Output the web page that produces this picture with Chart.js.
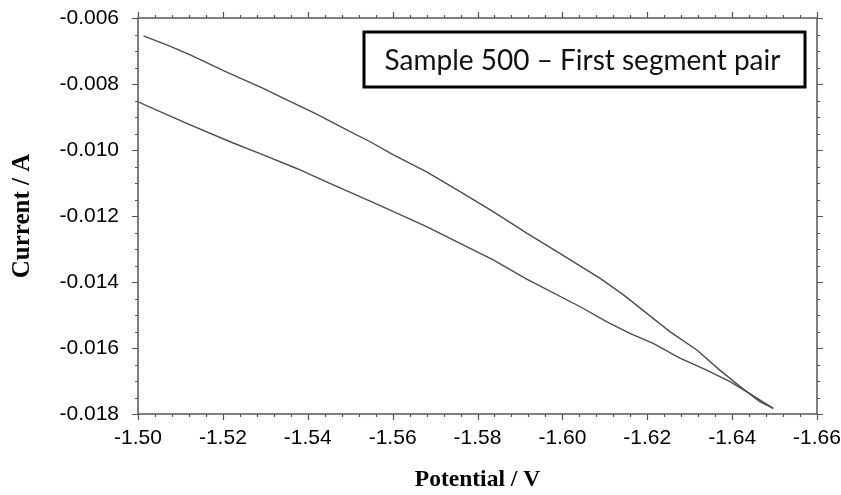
<!DOCTYPE html>
<html>
<head>
<meta charset="utf-8">
<script src="https://cdn.jsdelivr.net/npm/chart.js@4.4.1/dist/chart.umd.min.js"></script>
<style>
html, body { margin: 0; padding: 0; background: #fff; }
#wrap { width: 841px; height: 495px; }
</style>
</head>
<body>
<div id="wrap"><canvas id="cv-chart"></canvas></div>
<script>
// forward scan (lower trace), -1.50 V -> -1.65 V
const potentialFwd = [-1.5000, -1.5052, -1.5123, -1.5217, -1.5295, -1.5374, -1.5452, -1.5547, -1.5602, -1.5680, -1.5759,
    -1.5837, -1.5916, -1.6042, -1.6104, -1.6159, -1.6214, -1.6277, -1.6340, -1.6395, -1.6434, -1.6497]
const currentFwd = [-0.00854, -0.00884, -0.00924, -0.00975, -0.01015, -0.01056, -0.01101, -0.01155, -0.01187, -0.01232, -0.01283,
    -0.01333, -0.01391, -0.01475, -0.01520, -0.01556, -0.01586, -0.01631, -0.01667, -0.01702, -0.01732, -0.01783]

// reverse scan (upper trace), -1.65 V -> -1.50 V
const potentialRev = [-1.6497, -1.6466, -1.6419, -1.6371, -1.6317, -1.6254, -1.6199, -1.6144, -1.6089, -1.5994, -1.5916, -1.5837,
    -1.5759, -1.5680, -1.5602, -1.5547, -1.5484, -1.5421, -1.5342, -1.5295, -1.5213, -1.5123, -1.5075, -1.5013]
const currentRev = [-0.01783, -0.01763, -0.01717, -0.01667, -0.01606, -0.01551, -0.01495, -0.01439, -0.01389, -0.01313, -0.01252, -0.01187,
    -0.01126, -0.01066, -0.01015, -0.00975, -0.00934, -0.00891, -0.00843, -0.00813, -0.00766, -0.00712, -0.00685, -0.00654]

const xRange = [-1.66, -1.50]
const yRange = [-0.018, -0.006]
const xStep = 0.02
const yStep = 0.002
const boxLabel = 'Sample 500 \u2013 First segment pair'

const axisColor = '#555'
const lineColor = '#4d4d4d'

function toPoints(xs, ys)
{
    return xs.map(function (v, i) { return { x: v, y: ys[i] } })
}

// box + outside tick marks on all four sides
const frameTicks = {
    id: 'frameTicks',
    afterDraw(chart)
    {
        const ctx = chart.ctx
        const a = chart.chartArea
        const x = chart.scales.x
        const y = chart.scales.y

        ctx.save()
        ctx.strokeStyle = axisColor
        ctx.lineWidth = 1.5
        ctx.strokeRect(a.left, a.top, a.right - a.left, a.bottom - a.top)

        ctx.lineWidth = 1.2
        ctx.beginPath()
        const nx = Math.round((xRange[1] - xRange[0]) / (xStep / 5))
        for (let i = 0; i <= nx; i++) {
            const px = Math.round(x.getPixelForValue(xRange[1] - i * xStep / 5)) + 0.5
            const len = i % 5 === 0 ? 6 : 3
            ctx.moveTo(px, a.bottom); ctx.lineTo(px, a.bottom + len)
            ctx.moveTo(px, a.top); ctx.lineTo(px, a.top - len)
        }
        const ny = Math.round((yRange[1] - yRange[0]) / (yStep / 4))
        for (let i = 0; i <= ny; i++) {
            const py = Math.round(y.getPixelForValue(yRange[1] - i * yStep / 4)) + 0.5
            const len = i % 4 === 0 ? 6 : 3
            ctx.moveTo(a.left, py); ctx.lineTo(a.left - len, py)
            ctx.moveTo(a.right, py); ctx.lineTo(a.right + len, py)
        }
        ctx.stroke()
        ctx.restore()
    }
}

const labelBox = {
    id: 'labelBox',
    afterDraw(chart)
    {
        const ctx = chart.ctx
        const a = chart.chartArea
        const left = a.left + 226
        const top = a.top + 14
        const w = 441
        const h = 55

        ctx.save()
        ctx.fillStyle = '#fff'
        ctx.fillRect(left, top, w, h)
        ctx.strokeStyle = '#000'
        ctx.lineWidth = 3
        ctx.strokeRect(left, top, w, h)
        ctx.fillStyle = '#111'
        ctx.font = '28px Lato'
        ctx.textAlign = 'center'
        ctx.textBaseline = 'middle'
        ctx.fillText(boxLabel, left + w / 2 - 2, top + h / 2 + 1)
        ctx.restore()
    }
}

new Chart('cv-chart', {
    type: 'scatter',
    data: {
        datasets: [
            {
                label: 'Forward',
                data: toPoints(potentialFwd, currentFwd),
                showLine: true,
                borderColor: lineColor,
                borderWidth: 1.4,
                pointRadius: 0,
                tension: 0
            },
            {
                label: 'Reverse',
                data: toPoints(potentialRev, currentRev),
                showLine: true,
                borderColor: lineColor,
                borderWidth: 1.4,
                pointRadius: 0,
                tension: 0
            }
        ]
    },
    options: {
        responsive: true,
        maintainAspectRatio: false,
        animation: false,
        layout: {
            padding: { top: 18, right: 24, left: 0, bottom: 0 }
        },
        plugins: {
            legend: { display: false },
            tooltip: { enabled: false }
        },
        scales: {
            x: {
                type: 'linear',
                position: 'bottom',
                reverse: true,
                min: xRange[0],
                max: xRange[1],
                grid: { display: false },
                border: { display: false },
                ticks: {
                    stepSize: xStep,
                    autoSkip: false,
                    maxRotation: 0,
                    padding: 4,
                    color: '#000',
                    font: { family: 'Liberation Sans', size: 21 },
                    callback: function (v) { return v.toFixed(2) }
                },
                title: {
                    display: true,
                    text: 'Potential / V',
                    color: '#000',
                    font: { family: 'Liberation Serif', size: 23.5, weight: 'bold' },
                    padding: { top: 0, bottom: 1 }
                },
                afterFit: function (s)
                {
                    s.height = 81
                    s.paddingLeft = 0
                    s.paddingRight = 0
                }
            },
            y: {
                type: 'linear',
                min: yRange[0],
                max: yRange[1],
                grid: { display: false },
                border: { display: false },
                ticks: {
                    stepSize: yStep,
                    padding: 11,
                    color: '#000',
                    font: { family: 'Liberation Sans', size: 21 },
                    callback: function (v) { return v.toFixed(3) }
                },
                title: {
                    display: true,
                    text: 'Current / A',
                    color: '#000',
                    font: { family: 'Liberation Serif', size: 25, weight: 'bold' },
                    padding: { top: 8, bottom: 0 }
                },
                afterFit: function (s)
                {
                    s.width = 138
                    s.paddingTop = 0
                    s.paddingBottom = 0
                }
            }
        }
    },
    plugins: [frameTicks, labelBox]
})
</script>
</body>
</html>
